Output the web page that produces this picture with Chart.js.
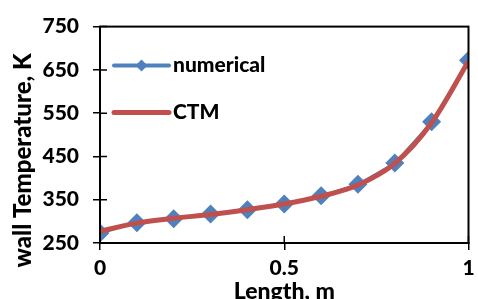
<!DOCTYPE html>
<html>
<head>
<meta charset="utf-8">
<script src="https://cdn.jsdelivr.net/npm/chart.js@4/dist/chart.umd.min.js"></script>
<style>
  html, body { margin: 0; padding: 0; background: #fff; overflow: hidden; }
  #wrap { width: 478px; height: 299px; position: relative; }
</style>
</head>
<body>
<div id="wrap"><canvas id="tempChart"></canvas></div>
<script>
const lengths = [0, 0.1, 0.2, 0.3, 0.4, 0.5, 0.6, 0.7, 0.8, 0.9, 1.0];
const numerical = [273, 297, 306, 317, 327, 340, 359, 386, 435, 530, 672];
const ctm = [277, 296, 307, 316, 327, 340, 358, 384, 434, 528, 670];
const seriesNames = ['numerical', 'CTM'];
const yTicks = [250, 350, 450, 550, 650, 750];
const xTicks = [0, 0.5, 1];

const FONT = 'Lato, "Liberation Sans", sans-serif';
const blue = '#4f81bd';
const red = '#c0504d';

function toPoints(ys) {
    return lengths.map((x, i) => ({ x: x, y: ys[i] }));
}

// frame round the plot + ticks that cross the axis + legend inside the plot
const framePlugin = {
    id: 'frame',
    afterDatasetsDraw(chart) {
        const ctx = chart.ctx;
        const a = chart.chartArea;
        const xs = chart.scales.x, ys = chart.scales.y;
        ctx.save();
        ctx.strokeStyle = '#000';
        ctx.lineWidth = 2;
        ctx.strokeRect(a.left, a.top, a.right - a.left, a.bottom - a.top);
        ctx.beginPath();
        yTicks.forEach(v => {
            const y = ys.getPixelForValue(v);
            ctx.moveTo(a.left, y); ctx.lineTo(a.left + 7, y);
        });
        xTicks.forEach(v => {
            const x = xs.getPixelForValue(v);
            ctx.moveTo(x, a.bottom); ctx.lineTo(x, a.bottom - 7);
        });
        ctx.lineWidth = 1.5;
        ctx.stroke();

        // legend
        const lx = a.left + 14, lw = 55;
        const rows = [a.top + 39, a.top + 86];
        ctx.lineCap = 'round';
        ctx.lineWidth = 4;
        ctx.strokeStyle = blue;
        ctx.beginPath(); ctx.moveTo(lx, rows[0]); ctx.lineTo(lx + lw, rows[0]); ctx.stroke();
        ctx.fillStyle = blue;
        ctx.beginPath();
        const cx = lx + lw / 2, r = 6;
        ctx.moveTo(cx, rows[0] - r); ctx.lineTo(cx + r, rows[0]);
        ctx.lineTo(cx, rows[0] + r); ctx.lineTo(cx - r, rows[0]); ctx.closePath(); ctx.fill();
        ctx.lineWidth = 5;
        ctx.strokeStyle = red;
        ctx.beginPath(); ctx.moveTo(lx, rows[1]); ctx.lineTo(lx + lw, rows[1]); ctx.stroke();
        ctx.fillStyle = '#000';
        ctx.font = '900 21px ' + FONT;
        ctx.textBaseline = 'middle';
        ctx.fillText(seriesNames[0], lx + lw + 4, rows[0]);
        ctx.fillText(seriesNames[1], lx + lw + 4, rows[1]);
        ctx.restore();
    }
};

const ctx = document.getElementById('tempChart').getContext('2d');
new Chart(ctx, {
    type: 'line',
    data: {
        datasets: [
            {
                label: seriesNames[0],
                data: toPoints(numerical),
                borderColor: blue,
                backgroundColor: blue,
                borderWidth: 2,
                pointStyle: 'rectRot',
                pointRadius: 9.5,
                pointBorderWidth: 0,
                tension: 0,
                order: 1
            },
            {
                label: seriesNames[1],
                data: toPoints(ctm),
                borderColor: red,
                backgroundColor: red,
                borderWidth: 5,
                pointRadius: 0,
                cubicInterpolationMode: 'monotone',
                order: 0
            }
        ]
    },
    plugins: [framePlugin],
    options: {
        responsive: true,
        maintainAspectRatio: false,
        animation: false,
        layout: { padding: { top: 23, right: 7, left: 0, bottom: 0 } },
        plugins: { legend: { display: false }, tooltip: { enabled: false } },
        scales: {
            x: {
                type: 'linear',
                min: 0, max: 1,
                afterBuildTicks: s => { s.ticks = xTicks.map(v => ({ value: v })); },
                afterFit: s => { s.height = 56; s.paddingLeft = 0; s.paddingRight = 0; },
                grid: { drawOnChartArea: false, color: '#000', tickLength: 7, lineWidth: 1.5 },
                border: { color: '#000', width: 2 },
                ticks: {
                    color: '#000', padding: 6,
                    font: { family: FONT, size: 21, weight: '900' },
                    maxRotation: 0,
                    callback: v => String(v)
                },
                title: {
                    display: true, text: 'Length, m', color: '#000',
                    font: { family: FONT, size: 23, weight: '900', lineHeight: 1 },
                    padding: { top: 0, bottom: -4 }
                }
            },
            y: {
                min: 250, max: 750,
                afterBuildTicks: s => { s.ticks = yTicks.map(v => ({ value: v })); },
                afterFit: s => { s.width = 100; },
                grid: { drawOnChartArea: false, color: '#000', tickLength: 7, lineWidth: 1.5 },
                border: { color: '#000', width: 2 },
                ticks: {
                    color: '#000', padding: 14,
                    font: { family: FONT, size: 21, weight: '900' }
                },
                title: {
                    display: true, text: 'wall Temperature, K         ', color: '#000',
                    font: { family: FONT, size: 24, weight: '900', lineHeight: 1 },
                    padding: { top: 11, bottom: 0 }
                }
            }
        }
    }
});
</script>
</body>
</html>
